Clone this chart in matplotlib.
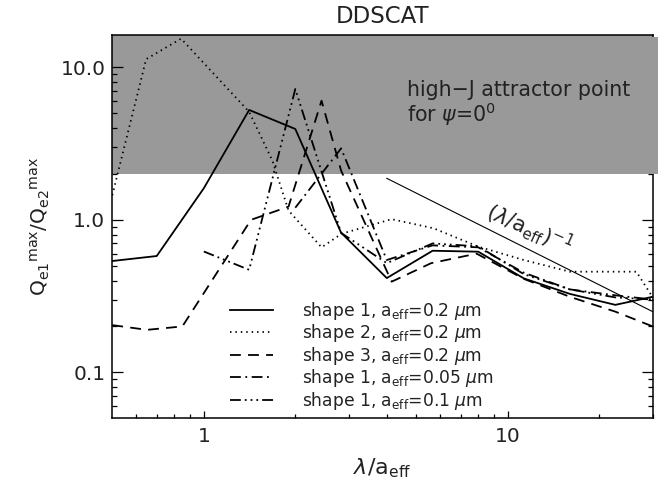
import matplotlib
matplotlib.use("Agg")
import matplotlib.pyplot as plt
from matplotlib.patches import Rectangle
from matplotlib.transforms import blended_transform_factory
from matplotlib.ticker import FixedLocator, FixedFormatter, NullFormatter

plt.rcParams['font.family'] = ['DejaVu Sans']
plt.rcParams['mathtext.fontset'] = 'dejavusans'

# ---- data ----
s1_02_x = [0.5, 0.7, 1.0, 1.41, 2.0, 2.83, 4.0, 5.66, 8.0, 11.3, 16.0, 22.6, 30.0]
s1_02_y = [0.537, 0.579, 1.61, 5.25, 3.94, 0.823, 0.415, 0.627, 0.618, 0.413, 0.327, 0.277, 0.313]

s2_02_x = [0.5, 0.646, 0.842, 1.41, 1.68, 1.9, 2.44, 2.84, 4.15, 5.7, 8.0, 11.3, 16.0, 26.5, 30.0]
s2_02_y = [1.45, 11.3, 15.4, 5.1, 2.45, 1.15, 0.66, 0.81, 1.01, 0.88, 0.667, 0.545, 0.457, 0.457, 0.31]

s3_02_x = [0.5, 0.65, 0.85, 1.43, 1.9, 2.44, 2.83, 4.15, 5.6, 7.9, 11.3, 16.0, 22.6, 30.0]
s3_02_y = [0.204, 0.19, 0.2, 1.0, 1.22, 6.04, 2.1, 0.393, 0.52, 0.60, 0.41, 0.313, 0.25, 0.2]

s1_005_x = [2.0, 2.83, 4.0, 5.66, 8.0, 11.3, 16.0, 22.6, 30.0]
s1_005_y = [1.2, 2.94, 0.545, 0.68, 0.66, 0.45, 0.35, 0.32, 0.30]

s1_01_x = [1.0, 1.41, 2.0, 2.83, 4.0, 5.66, 8.0, 11.3, 16.0, 22.6, 30.0]
s1_01_y = [0.62, 0.47, 7.2, 0.82, 0.52, 0.70, 0.67, 0.44, 0.35, 0.31, 0.30]

powerlaw_x = [4.0, 30.0]
powerlaw_y = [1.87, 0.25]

attractor_ymin = 2.0

labels = [r'shape 1, a$_{\rm eff}$=0.2 $\mu$m',
          r'shape 2, a$_{\rm eff}$=0.2 $\mu$m',
          r'shape 3, a$_{\rm eff}$=0.2 $\mu$m',
          r'shape 1, a$_{\rm eff}$=0.05 $\mu$m',
          r'shape 1, a$_{\rm eff}$=0.1 $\mu$m']

xmin, xmax = 0.5, 30.0
ymin, ymax = 0.05, 16.2

TXT = '#222222'

fig = plt.figure(figsize=(6.67, 4.91), dpi=100)
ax = fig.add_axes([0.1684, 0.1481, 0.8102, 0.7800])
ax.set_xscale('log')
ax.set_yscale('log')
ax.set_xlim(xmin, xmax)
ax.set_ylim(ymin, ymax)

# grey attractor region
ax.axhspan(attractor_ymin, ymax, color='#999999', lw=0, zorder=1)

lw = 1.3
styles = [
    dict(ls='-'),
    dict(ls=(0, (0.8, 2.2))),
    dict(ls=(0, (6, 4))),
    dict(ls=(0, (6, 2.5, 1, 2.5))),
    dict(ls=(0, (6, 2.2, 1, 2.2, 1, 2.2, 1, 2.2))),
]
series = [(s1_02_x, s1_02_y), (s2_02_x, s2_02_y), (s3_02_x, s3_02_y),
          (s1_005_x, s1_005_y), (s1_01_x, s1_01_y)]
handles = []
for (x, y), st, lab in zip(series, styles, labels):
    h, = ax.plot(x, y, color='black', lw=lw, label=lab, zorder=3, **st)
    handles.append(h)

ax.plot(powerlaw_x, powerlaw_y, color='black', lw=0.8, zorder=3)

ax.text(0.772, 0.497, r'$\left(\lambda/\mathrm{a_{eff}}\right)^{-1}$',
        transform=ax.transAxes, rotation=-24, fontsize=15, color=TXT,
        ha='center', va='center', rotation_mode='anchor', zorder=4)

ax.text(0.546, 0.857, 'high\u2212J attractor point', transform=ax.transAxes,
        fontsize=14.8, color=TXT, ha='left', va='center', zorder=4)
ax.text(0.546, 0.795, r'for $\psi$=0$^0$', transform=ax.transAxes,
        fontsize=14.8, color=TXT, ha='left', va='center', zorder=4)

# legend
leg = ax.legend(handles=handles, loc='upper left', bbox_to_anchor=(0.218, 0.31),
                frameon=False, fontsize=12.3, handlelength=2.5, handletextpad=1.7,
                labelspacing=0.03, borderpad=0, borderaxespad=0)
for t in leg.get_texts():
    t.set_color(TXT)

# ticks
ax.xaxis.set_major_locator(FixedLocator([1, 10]))
ax.xaxis.set_major_formatter(FixedFormatter(['1', '10']))
ax.xaxis.set_minor_locator(FixedLocator([0.6, 0.7, 0.8, 0.9, 2, 3, 4, 5, 6, 7, 8, 9, 20, 30]))
ax.xaxis.set_minor_formatter(NullFormatter())
ax.yaxis.set_major_locator(FixedLocator([0.1, 1.0, 10.0]))
ax.yaxis.set_major_formatter(FixedFormatter(['0.1', '1.0', '10.0']))
yminor = [0.06, 0.07, 0.08, 0.09] + [0.2, 0.3, 0.4, 0.5, 0.6, 0.7, 0.8, 0.9] + \
         [2, 3, 4, 5, 6, 7, 8, 9]
ax.yaxis.set_minor_locator(FixedLocator(yminor))
ax.yaxis.set_minor_formatter(NullFormatter())

ax.tick_params(axis='both', which='both', direction='in', colors='black',
               labelcolor=TXT, labelsize=14.5, width=0.9)
ax.tick_params(axis='x', which='major', length=5.2, pad=6, top=False)
ax.tick_params(axis='x', which='minor', length=3.0, top=False)
ax.tick_params(axis='y', which='major', length=8, pad=5, right=True)
ax.tick_params(axis='y', which='minor', length=3.8, right=True)
for s in ax.spines.values():
    s.set_linewidth(1.1)

# cover right ticks/spine inside grey band
bt = blended_transform_factory(ax.transAxes, ax.transData)
ax.add_patch(Rectangle((0.96, attractor_ymin), 0.05, ymax / 1.02 - attractor_ymin,
                       transform=bt, facecolor='#999999', edgecolor='none',
                       zorder=2.6, clip_on=False))

ax.set_title('DDSCAT', fontsize=16.5, color=TXT, pad=9)
ax.set_xlabel(r'$\lambda$/a$_{\rm eff}$', fontsize=16, color=TXT, labelpad=8)
ax.set_ylabel(r'Q$_{\rm e1}$$^{\rm max}$/Q$_{\rm e2}$$^{\rm max}$', fontsize=14.5,
              color=TXT, labelpad=6)

fig.savefig('out.png', dpi=100)
